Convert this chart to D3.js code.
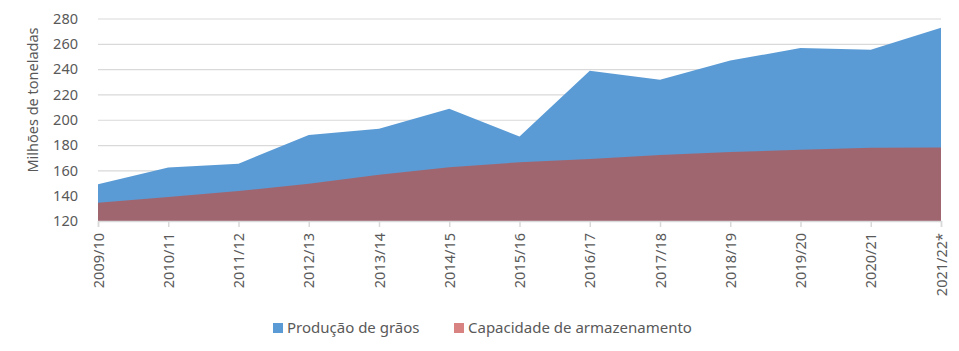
<!DOCTYPE html>
<html>
<head>
<meta charset="utf-8">
<script src="https://cdn.jsdelivr.net/npm/d3@7"></script>
<style>
  body { margin: 0; background: #fff; }
  svg text { font-family: "Noto Sans", "Open Sans", sans-serif; fill: #595959; }
</style>
</head>
<body>
<div id="chart"></div>
<script>
// safras e valores (milhões de toneladas)
const safras = ["2009/10", "2010/11", "2011/12", "2012/13", "2013/14", "2014/15", "2015/16",
  "2016/17", "2017/18", "2018/19", "2019/20", "2020/21", "2021/22*"];
const producao = [149, 162.2, 165.3, 188, 192.8, 208.6, 186.7, 238.7, 231.6, 246.8, 256.6, 255.3, 272.7];
const capacidade = [134.5, 139, 143.7, 149.5, 156.6, 162.5, 166.4, 169, 172.2, 174.6, 176.2, 177.8, 178];
const yTicks = [120, 140, 160, 180, 200, 220, 240, 260, 280];

const svgWidth = 959;
const svgHeight = 351;
const margin = { top: 18.5, right: 18, bottom: 130, left: 98 };
const width = svgWidth - margin.left - margin.right;
const height = svgHeight - margin.top - margin.bottom;

const svg = d3.select("#chart").append("svg")
  .attr("width", svgWidth)
  .attr("height", svgHeight);

const chart = svg.append("g")
  .attr("transform", `translate(${margin.left},${margin.top})`);

const x = d3.scalePoint().domain(safras).range([0, width]);
const y = d3.scaleLinear().domain([120, 280]).range([height, 0]);

// gridlines + y labels
const yAxis = chart.append("g")
  .call(d3.axisLeft(y).tickValues(yTicks).tickSize(-width).tickPadding(20));
yAxis.select(".domain").remove();
yAxis.selectAll("line").attr("stroke", "#d9d9d9").attr("stroke-width", 1.2);
yAxis.selectAll("text").style("font-size", "14.5px").attr("fill", "#595959");

const data = safras.map((s, i) => ({ safra: s, prod: producao[i], cap: capacidade[i] }));

chart.append("path")
  .datum(data)
  .attr("fill", "#5b9bd5")
  .attr("d", d3.area().x(d => x(d.safra)).y0(y(120)).y1(d => y(d.prod)));

chart.append("path")
  .datum(data)
  .attr("fill", "#a06670")
  .attr("d", d3.area().x(d => x(d.safra)).y0(y(120)).y1(d => y(d.cap)));

// x axis
const xAxis = chart.append("g")
  .attr("transform", `translate(0,${height})`)
  .call(d3.axisBottom(x).tickSizeOuter(0).tickSize(6));
xAxis.select(".domain").attr("stroke", "#d9d9d9").attr("stroke-width", 1.5);
xAxis.selectAll("line").attr("stroke", "#d9d9d9").attr("stroke-width", 1.5);
xAxis.selectAll("text")
  .style("font-size", "14.5px")
  .attr("fill", "#595959")
  .attr("transform", "rotate(-90)")
  .attr("text-anchor", "end")
  .attr("x", -12)
  .attr("y", 0)
  .attr("dy", "0.35em");

// y axis title
svg.append("text")
  .attr("transform", "rotate(-90)")
  .attr("x", -100)
  .attr("y", 38)
  .attr("text-anchor", "middle")
  .style("font-size", "14.5px")
  .text("Milhões de toneladas");

// legend
const legend = [
  { label: "Produção de grãos", color: "#5b9bd5", x: 273 },
  { label: "Capacidade de armazenamento", color: "#d88282", x: 454 }
];
const lg = svg.append("g").attr("transform", "translate(0,328)");
legend.forEach(l => {
  lg.append("rect").attr("x", l.x).attr("y", -5).attr("width", 10).attr("height", 10).attr("fill", l.color);
  lg.append("text").attr("x", l.x + 14).attr("y", 0).attr("dy", "0.35em")
    .style("font-size", "15px").text(l.label);
});
</script>
</body>
</html>
